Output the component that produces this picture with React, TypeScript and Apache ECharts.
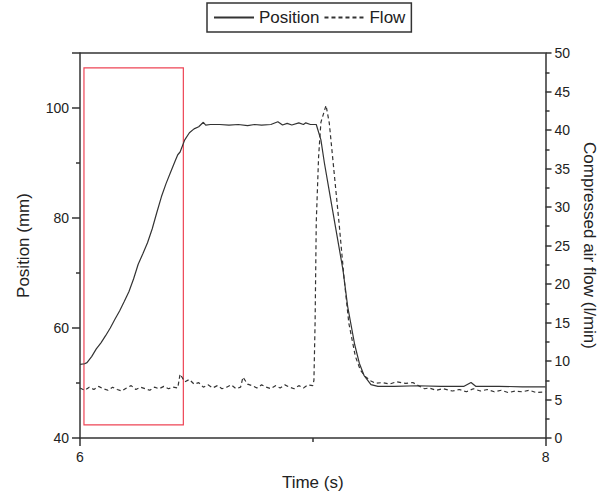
import React, { useEffect, useRef } from "react";
import * as echarts from "echarts";

// Position (mm) vs time (s)
const positionTime = [
  6.0, 6.02, 6.03, 6.05, 6.07, 6.09, 6.11, 6.13, 6.15, 6.17, 6.19, 6.21, 6.23, 6.25, 6.27, 6.29, 6.31, 6.33,
  6.35, 6.37, 6.39, 6.41, 6.42, 6.43, 6.45, 6.47, 6.49, 6.51, 6.53, 6.54, 6.56, 6.6, 6.64, 6.68, 6.72, 6.75,
  6.78, 6.82, 6.85, 6.87, 6.89, 6.91, 6.94, 6.96, 6.97, 6.99, 7.015, 7.035, 7.05, 7.07, 7.1, 7.13, 7.15, 7.18,
  7.2, 7.22, 7.25, 7.28, 7.35, 7.45, 7.55, 7.65, 7.68, 7.7, 7.8, 7.9, 8.0,
];
const positionValues = [
  53.4, 53.5, 53.7, 54.8, 56.2, 57.3, 58.6, 60.0, 61.6, 63.1, 64.8, 66.6, 68.9, 71.6, 73.5, 75.5, 78.0, 81.0,
  83.9, 86.3, 88.4, 90.5, 91.5, 92.0, 94.2, 95.5, 96.2, 96.6, 97.4, 96.9, 97.0, 97.0, 96.9, 97.0, 96.8, 97.0,
  96.9, 97.0, 97.5, 96.9, 97.2, 96.9, 97.3, 97.0, 97.3, 97.0, 97.0, 94.2, 90.0, 85.1, 77.8, 70.5, 63.9, 57.0,
  53.6, 51.4, 49.7, 49.4, 49.4, 49.5, 49.4, 49.4, 50.1, 49.4, 49.4, 49.3, 49.3,
];

// Compressed air flow (l/min) vs time (s)
const flowTime = [
  6.0, 6.02, 6.04, 6.06, 6.08, 6.1, 6.12, 6.14, 6.16, 6.18, 6.2, 6.22, 6.24, 6.26, 6.28, 6.3, 6.32, 6.34, 6.36,
  6.38, 6.4, 6.42, 6.43, 6.45, 6.47, 6.49, 6.51, 6.53, 6.55, 6.57, 6.59, 6.61, 6.63, 6.65, 6.67, 6.69, 6.7,
  6.72, 6.74, 6.76, 6.78, 6.8, 6.82, 6.84, 6.86, 6.88, 6.9, 6.92, 6.94, 6.96, 6.98, 7.0, 7.005, 7.01, 7.015,
  7.025, 7.035, 7.057, 7.071, 7.092, 7.113, 7.134, 7.155, 7.183, 7.205, 7.225, 7.25, 7.27, 7.3, 7.33, 7.36,
  7.4, 7.43, 7.46, 7.48, 7.5, 7.53, 7.56, 7.6, 7.63, 7.66, 7.69, 7.72, 7.75, 7.78, 7.81, 7.84, 7.87, 7.9, 7.93,
  7.96, 8.0,
];
const flowValues = [
  6.5, 6.2, 6.6, 6.3, 6.7, 6.4, 6.2, 6.6, 6.3, 6.1, 6.5, 6.8, 6.3, 6.6, 6.4, 6.2, 6.6, 6.4, 6.7,
  6.4, 6.6, 6.5, 8.3, 7.3, 7.6, 7.0, 7.2, 6.6, 6.9, 6.5, 6.8, 6.4, 6.6, 6.9, 6.4, 6.6, 7.9,
  7.0, 6.8, 6.5, 6.9, 6.6, 6.4, 6.8, 6.5, 6.9, 6.6, 6.4, 6.8, 6.5, 6.9, 6.8, 7.5, 15.0, 28.0,
  36.5, 41.0, 43.2, 40.9, 34.4, 27.9, 20.9, 14.9, 10.6, 8.8, 8.0, 7.4, 7.1, 7.2, 7.0, 7.3,
  7.1, 7.2, 6.7, 6.4, 6.5, 6.2, 6.4, 6.1, 6.3, 6.0, 6.4, 6.1, 6.3, 6.0, 6.2, 5.9, 6.1, 6.0, 6.2,
  5.9, 6.0,
];

// Highlighted region (time s, position mm)
const boxTime = [6.017, 6.444];
const boxPosition = [42.4, 107.3];

const FONT = "'Liberation Sans', Arial, sans-serif";
const INK = "#222";

export default function App() {
  const ref = useRef<HTMLDivElement>(null);
  useEffect(() => {
    if (!ref.current) return;
    const chart = echarts.init(ref.current, undefined, { renderer: "svg" });
    const axisLine = { show: true, lineStyle: { color: "#333", width: 1.5 } };
    chart.setOption({
      animation: false,
      textStyle: { fontFamily: FONT, color: INK },
      legend: {
        top: 3,
        left: 207,
        data: ["Position", "Flow"],
        borderColor: "#333",
        borderWidth: 1.5,
        padding: [6, 6],
        itemGap: 4,
        itemWidth: 40,
        itemHeight: 12,
        itemStyle: { opacity: 0 },
        textStyle: { fontSize: 17, color: INK, fontFamily: FONT },
      },
      grid: { left: 80, right: 53, top: 53, bottom: 64, show: false },
      xAxis: {
        type: "value",
        min: 6,
        max: 8,
        interval: 2,
        name: "Time (s)",
        nameLocation: "middle",
        nameGap: 36,
        nameTextStyle: { fontSize: 17, color: INK, fontFamily: FONT },
        axisLine,
        axisTick: { show: true, length: 8, lineStyle: { color: "#333", width: 1.5 } },
        minorTick: { show: true, splitNumber: 2, length: 4, lineStyle: { color: "#333", width: 1.5 } },
        axisLabel: { fontSize: 14, color: INK, margin: 12, fontFamily: FONT },
        splitLine: { show: false },
        minorSplitLine: { show: false },
      },
      yAxis: [
        {
          type: "value",
          position: "left",
          min: 40,
          max: 110,
          interval: 20,
          name: "Position (mm)",
          nameLocation: "middle",
          nameGap: 48,
          nameTextStyle: { fontSize: 17, color: INK, fontFamily: FONT },
          axisLine,
          axisTick: { show: true, length: 8, lineStyle: { color: "#333", width: 1.5 } },
          minorTick: { show: true, splitNumber: 2, length: 4, lineStyle: { color: "#333", width: 1.5 } },
          axisLabel: { fontSize: 14, color: INK, margin: 11, showMaxLabel: false, fontFamily: FONT },
          splitLine: { show: false },
        },
        {
          type: "value",
          position: "right",
          min: 0,
          max: 50,
          interval: 5,
          name: "Compressed air flow (l/min)",
          nameLocation: "middle",
          nameRotate: -90,
          nameGap: 30,
          nameTextStyle: { fontSize: 17, color: INK, fontFamily: FONT },
          axisLine,
          axisTick: { show: true, length: 6, lineStyle: { color: "#333", width: 1.5 } },
          minorTick: { show: true, splitNumber: 2, length: 4, lineStyle: { color: "#333", width: 1.5 } },
          axisLabel: { fontSize: 14, color: INK, margin: 9, fontFamily: FONT },
          splitLine: { show: false },
        },
      ],
      series: [
        {
          name: "Position",
          type: "line",
          yAxisIndex: 0,
          symbol: "none",
          data: positionTime.map((t, i) => [t, positionValues[i]]),
          lineStyle: { color: "#333", width: 1.2 },
          itemStyle: { color: "#333" },
          markArea: {
            silent: true,
            itemStyle: { color: "rgba(0,0,0,0)", borderColor: "#ee4455", borderWidth: 1.2 },
            data: [[{ coord: [boxTime[0], boxPosition[0]] }, { coord: [boxTime[1], boxPosition[1]] }]],
          },
          markLine: {
            silent: true,
            symbol: "none",
            label: { show: false },
            lineStyle: { color: "#333", width: 1.5, type: "solid" },
            data: [[{ coord: [6, 110] }, { coord: [8, 110] }]],
          },
        },
        {
          name: "Flow",
          type: "line",
          yAxisIndex: 1,
          symbol: "none",
          data: flowTime.map((t, i) => [t, flowValues[i]]),
          lineStyle: { color: "#333", width: 1.2, type: [4, 3] },
          itemStyle: { color: "#333" },
        },
      ],
    });
    return () => chart.dispose();
  }, []);
  return <div ref={ref} style={{ position: "absolute", left: 0, top: 0, width: 606, height: 502 }} />;
}
